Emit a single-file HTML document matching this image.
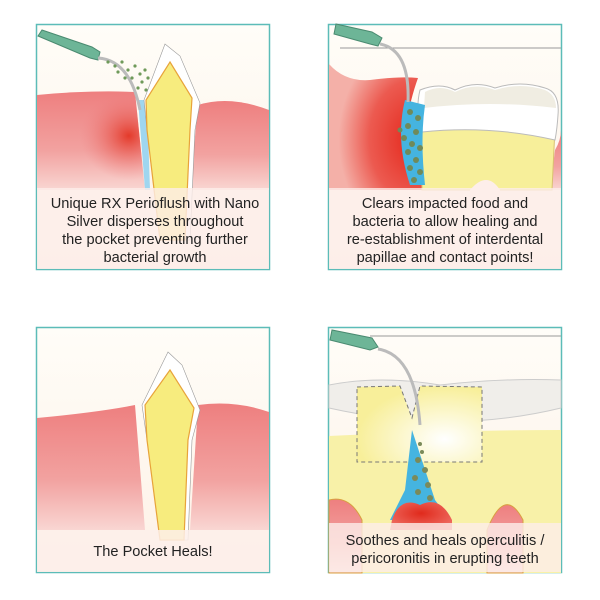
<!DOCTYPE html>
<html><head><meta charset="utf-8"><style>
body{margin:0;background:#fff;width:600px;height:600px;overflow:hidden}
svg{display:block}
text{font-family:"Liberation Sans",sans-serif;font-size:14.6px;fill:#222}
</style></head><body>
<svg width="600" height="600" viewBox="0 0 600 600">
<defs>
<linearGradient id="bg" x1="0" y1="0" x2="0" y2="1"><stop offset="0" stop-color="#fffdf8"/><stop offset="1" stop-color="#fdf1e6"/></linearGradient>
<linearGradient id="gum" x1="0" y1="0" x2="0" y2="1"><stop offset="0" stop-color="#ee7f7f"/><stop offset="0.6" stop-color="#f2a2a0"/><stop offset="1" stop-color="#f9d6d2"/></linearGradient>
<radialGradient id="inf" cx="0.85" cy="0.45" r="0.45"><stop offset="0" stop-color="#e43a2a"/><stop offset="1" stop-color="#ee8080" stop-opacity="0"/></radialGradient>
<radialGradient id="inf2" cx="0.5" cy="0.4" r="0.6"><stop offset="0" stop-color="#e02a1c"/><stop offset="1" stop-color="#ee6a60"/></radialGradient>
<radialGradient id="inf3" cx="0.9" cy="0.6" r="0.8"><stop offset="0" stop-color="#e4261a"/><stop offset="0.6" stop-color="#ec5a50"/><stop offset="1" stop-color="#f4b0a8"/></radialGradient>
<radialGradient id="crown" cx="0.7" cy="0.7" r="0.7"><stop offset="0" stop-color="#fff"/><stop offset="1" stop-color="#f8ef9a"/></radialGradient>
</defs>

<!-- TL panel -->
<rect x="36.5" y="24.5" width="233" height="245" fill="url(#bg)" stroke="#5cbcb8" stroke-width="1.5"/>
<path d="M37 95 Q90 90 135 92 L145 190 L37 190 Z" fill="url(#gum)"/>
<path d="M37 95 Q90 90 135 92 L145 190 L37 190 Z" fill="url(#inf)"/>
<path d="M198 105 Q230 95 269 110 L269 190 L190 190 Z" fill="url(#gum)"/>
<path d="M138 100 L145 190 L150 190 L147 100 Z" fill="#9fd6f0"/>
<path d="M165 44 L180 56 L200 103 L195 130 L190 240 L160 240 L147 130 L144 100 Z" fill="#fff" stroke="#999" stroke-width="0.6"/>
<path d="M170 62 L192 98 L190 130 L185 240 L160 240 L147 130 L146 100 Z" fill="#f7ec7e" stroke="#e8a33a" stroke-width="1.2"/>
<path d="M38 36 L90 58 L98 60 L100 52 L92 47 L42 30 Z" fill="#6db597" stroke="#4a8a70"/>
<path d="M98 58 Q130 60 140 110" fill="none" stroke="#bbb" stroke-width="3"/>
<g fill="#6f9a5a">
<circle cx="108" cy="62" r="1.6"/><circle cx="115" cy="66" r="1.6"/><circle cx="122" cy="62" r="1.6"/><circle cx="128" cy="70" r="1.6"/><circle cx="135" cy="66" r="1.6"/><circle cx="140" cy="74" r="1.6"/><circle cx="145" cy="70" r="1.6"/><circle cx="132" cy="78" r="1.6"/><circle cx="142" cy="82" r="1.6"/><circle cx="148" cy="78" r="1.6"/><circle cx="138" cy="88" r="1.6"/><circle cx="146" cy="90" r="1.6"/><circle cx="118" cy="72" r="1.6"/><circle cx="125" cy="78" r="1.6"/>
</g>
<rect x="37" y="188" width="232" height="81" fill="#fdeeea" opacity="0.8"/>
<text x="155" y="208" text-anchor="middle">Unique RX Perioflush with Nano</text>
<text x="155" y="226" text-anchor="middle">Silver disperses throughout</text>
<text x="155" y="244" text-anchor="middle">the pocket preventing further</text>
<text x="155" y="262" text-anchor="middle">bacterial growth</text>

<!-- TR panel -->
<rect x="328.5" y="24.5" width="233" height="245" fill="url(#bg)" stroke="#5cbcb8" stroke-width="1.5"/>
<line x1="340" y1="48" x2="561" y2="48" stroke="#999"/>
<path d="M555 150 Q561 140 561 130 L561 190 L550 190 Z" fill="url(#gum)"/>
<path d="M329 64 Q345 82 370 80 Q400 76 418 78 Q410 100 405 130 Q408 170 425 190 L329 190 Z" fill="url(#inf3)"/>
<path d="M422 130 Q470 120 555 128 L552 190 L422 190 Z" fill="#f7ef9a" stroke="#d9c070"/>
<path d="M470 190 Q487 170 500 190 L500 269 L470 269 Z" fill="#fdeeea"/>
<path d="M420 90 Q440 82 455 90 Q475 80 495 88 Q520 80 545 88 Q560 92 558 115 Q557 130 555 140 Q490 125 422 132 Q415 110 420 90 Z" fill="#fff" stroke="#bbb"/>
<path d="M425 92 Q440 84 455 92 Q475 82 495 90 Q520 82 545 90 Q556 95 556 108 Q490 100 424 108 Z" fill="#f0ede2"/>
<path d="M405 100 Q395 140 410 185 L425 185 Q420 140 425 105 Z" fill="#45b4e0"/>
<g fill="#6f8a5a"><circle cx="410" cy="112" r="3"/><circle cx="418" cy="118" r="3"/><circle cx="408" cy="126" r="3"/><circle cx="416" cy="132" r="3"/><circle cx="404" cy="138" r="3"/><circle cx="412" cy="144" r="3"/><circle cx="420" cy="148" r="3"/><circle cx="408" cy="152" r="3"/><circle cx="416" cy="160" r="3"/><circle cx="410" cy="168" r="3"/><circle cx="420" cy="172" r="3"/><circle cx="414" cy="180" r="3"/><circle cx="400" cy="130" r="2.5"/></g>
<path d="M334 34 L370 44 L378 46 L382 38 L372 32 L336 24 Z" fill="#6db597" stroke="#4a8a70"/>
<path d="M380 44 Q410 50 408 102" fill="none" stroke="#bbb" stroke-width="3"/>
<rect x="329" y="188" width="232" height="81" fill="#fdeeea" opacity="0.8"/>
<text x="445" y="208" text-anchor="middle">Clears impacted food and</text>
<text x="445" y="226" text-anchor="middle">bacteria to allow healing and</text>
<text x="445" y="244" text-anchor="middle">re-establishment of interdental</text>
<text x="445" y="262" text-anchor="middle">papillae and contact points!</text>

<!-- BL panel -->
<rect x="36.5" y="327.5" width="233" height="245" fill="url(#bg)" stroke="#5cbcb8" stroke-width="1.5"/>
<path d="M37 418 Q100 412 135 405 L145 530 L37 530 Z" fill="url(#gum)"/>
<path d="M198 405 Q235 400 269 412 L269 530 L190 530 Z" fill="url(#gum)"/>
<path d="M168 352 L182 365 L200 410 L192 440 L188 540 L160 540 L147 440 L142 405 Z" fill="#fff" stroke="#999" stroke-width="0.6"/>
<path d="M170 370 L194 408 L188 440 L184 540 L160 540 L147 440 L145 405 Z" fill="#f7ec7e" stroke="#e8a33a" stroke-width="1.2"/>
<rect x="37" y="530" width="232" height="42" fill="#fdeeea" opacity="0.85"/>
<text x="153" y="556" text-anchor="middle">The Pocket Heals!</text>

<!-- BR panel -->
<rect x="328.5" y="327.5" width="233" height="245" fill="url(#bg)" stroke="#5cbcb8" stroke-width="1.5"/>
<line x1="370" y1="336" x2="561" y2="336" stroke="#999"/>
<path d="M329 385 Q380 375 440 385 Q500 378 561 380 L561 408 Q450 435 329 408 Z" fill="#f0eeea" stroke="#ccc"/>
<path d="M329 436 Q450 430 561 430 L561 573 L329 573 Z" fill="#f8f1a8"/>
<path d="M357 387 L400 386 L412 418 L420 386 L482 387 L482 462 L357 462 Z" fill="url(#crown)" stroke="#777" stroke-dasharray="4,3"/>
<path d="M329 500 Q350 495 362 520 L362 573 L329 573 Z" fill="url(#gum)" stroke="#d9a040"/>
<path d="M412 430 L435 500 L450 520 L390 520 L405 490 Z" fill="#45b4e0"/>
<path d="M392 520 Q400 496 420 505 Q440 495 452 520 L452 530 L390 530 Z" fill="url(#inf2)"/>
<path d="M487 530 Q505 485 523 520 L523 573 L487 573 Z" fill="url(#gum)" stroke="#d9a040"/>
<g fill="#7a8a5a"><circle cx="418" cy="460" r="3"/><circle cx="425" cy="470" r="3"/><circle cx="415" cy="478" r="3"/><circle cx="428" cy="485" r="3"/><circle cx="418" cy="492" r="3"/><circle cx="430" cy="498" r="3"/><circle cx="420" cy="444" r="2"/><circle cx="422" cy="452" r="2"/></g>
<path d="M330 340 L370 350 L378 347 L372 338 L332 330 Z" fill="#6db597" stroke="#4a8a70"/>
<path d="M378 349 Q415 355 420 425" fill="none" stroke="#bbb" stroke-width="3"/>
<rect x="329" y="523" width="232" height="49" fill="#fdeeea" opacity="0.8"/>
<text x="445" y="545" text-anchor="middle">Soothes and heals operculitis /</text>
<text x="445" y="563" text-anchor="middle">pericoronitis in erupting teeth</text>
</svg>
</body></html>
